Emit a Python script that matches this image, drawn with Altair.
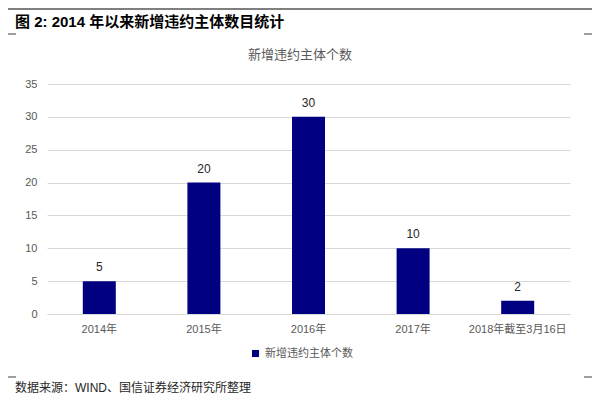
import altair as alt
import pandas as pd

categories = ["2014年", "2015年", "2016年", "2017年", "2018年截至3月16日"]
values = [5, 20, 30, 10, 2]
series_name = "新增违约主体个数"
y_ticks = [0, 5, 10, 15, 20, 25, 30, 35]
fig_title = "图 2:  2014 年以来新增违约主体数目统计"
chart_title = "新增违约主体个数"
source_text = "数据来源：WIND、国信证券经济研究所整理"

FONT = "Liberation Sans, Noto Sans CJK SC, sans-serif"
GRAY = "#595959"
BAR = "#000080"

df = pd.DataFrame({"cat": categories, "val": values, "series": series_name})

x_enc = alt.X(
    "cat:N", sort=categories, title=None,
    scale=alt.Scale(paddingInner=0, paddingOuter=0),
    axis=alt.Axis(labelAngle=0, ticks=False, domain=True, domainColor="#d9d9d9",
                  labelFont=FONT, labelFontSize=11, labelColor=GRAY, labelPadding=9,
                  grid=False),
)
y_enc = alt.Y(
    "val:Q", title=None, scale=alt.Scale(domain=[0, 35], nice=False),
    axis=alt.Axis(values=y_ticks, domain=False, ticks=False, gridColor="#d9d9d9",
                  labelOverlap=False,
                  labelFont=FONT, labelFontSize=11, labelColor=GRAY, labelPadding=10),
)

bars = alt.Chart(df).mark_bar(size=33).encode(
    x=x_enc,
    y=y_enc,
    color=alt.Color(
        "series:N", scale=alt.Scale(range=[BAR]),
        legend=alt.Legend(orient="none", legendX=203, legendY=264, title=None,
                          symbolType="square", symbolSize=50, symbolStrokeWidth=0,
                          labelFont=FONT, labelFontSize=11, labelColor=GRAY, labelOffset=4),
    ),
)

labels = alt.Chart(df).mark_text(baseline="middle", dy=-14, font=FONT, fontSize=12,
                                 color="#262626").encode(
    x=x_enc,
    y=y_enc,
    text="val:Q")


def text_layer(txt, x, y, size, align="left", weight="normal", color=GRAY):
    return alt.Chart(pd.DataFrame({"t": [txt]})).mark_text(
        align=align, baseline="middle", font=FONT, fontSize=size, fontWeight=weight,
        color=color).encode(x=alt.value(x), y=alt.value(y), text="t:N")


def hrule(x1, x2, y, color="#808080", w=1.0):
    return alt.Chart(pd.DataFrame({"a": [0]})).mark_rule(color=color, strokeWidth=w).encode(
        x=alt.value(x1), x2=alt.value(x2), y=alt.value(y))


layers = [
    hrule(-39, 545, -75, "#7f7f7f", 2),
    text_layer(fig_title, -32, -62, 15, weight="bold", color="#000000"),
    hrule(-39, -31, -50, "#7f7f7f", 1.5),
    hrule(537, 545, -50, "#7f7f7f", 1.5),
    text_layer(chart_title, 253, -29, 13, align="center", color=GRAY),
    bars,
    labels,
    hrule(-39, -31, 293, "#7f7f7f", 1.5),
    hrule(537, 545, 293, "#7f7f7f", 1.5),
    text_layer(source_text, -32, 304, 12, color="#262626"),
]

chart = alt.layer(*layers).properties(
    width=523, height=230,
    autosize=alt.AutoSizeParams(type="none"),
    padding={"left": 39, "top": 76, "right": 22, "bottom": 85},
).configure(background="white").configure_view(strokeWidth=0, stroke="transparent")

chart.save("out.html", embed_options={"renderer": "svg", "actions": False})
